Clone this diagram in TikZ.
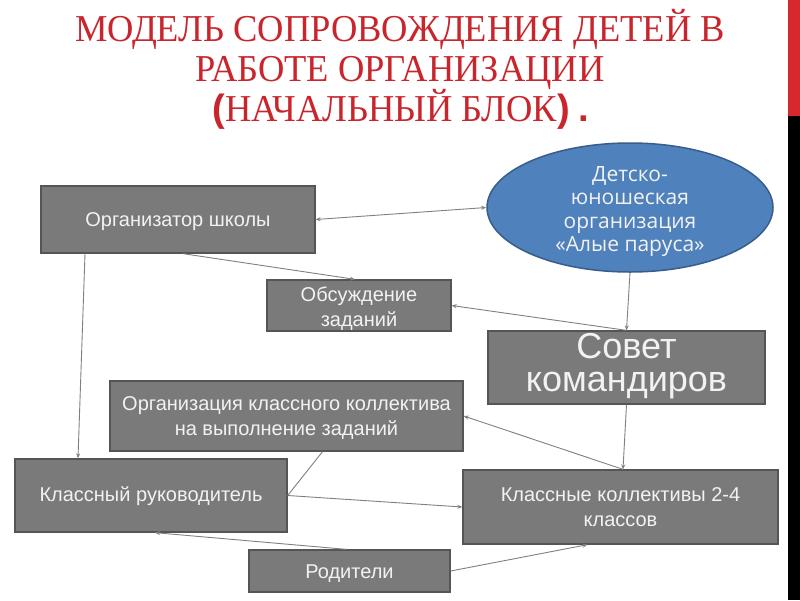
\documentclass[tikz,border=0pt]{standalone}
\usepackage{fontspec}
\setmainfont{Liberation Sans}
\newfontfamily\titlefont[FakeStretch=0.96]{Liberation Serif}
\newfontfamily\titlebold{Liberation Sans}
\newfontfamily\ellfont{Open Sans}
\usetikzlibrary{arrows.meta,shapes.geometric,calc}
\newcommand{\dnbox}[2]{\raisebox{-#1}[\height][\depth]{\begin{tabular}{@{}c@{}}#2\end{tabular}}}
\definecolor{boxfill}{RGB}{122,122,122}
\definecolor{boxline}{RGB}{85,85,85}
\definecolor{boxtext}{RGB}{242,242,242}
\definecolor{ellfill}{RGB}{79,129,189}
\definecolor{ellline}{RGB}{56,93,138}
\definecolor{titlered}{RGB}{200,38,44}
\definecolor{stripred}{RGB}{214,40,45}
\definecolor{conn}{RGB}{128,128,128}
\tikzset{
  gbox/.style={rectangle, fill=boxfill, draw=boxline, line width=1.3pt, inner sep=0pt,
    text=boxtext, align=center, font=\fontsize{20}{25}\selectfont},
  conline/.style={draw=conn, line width=0.9pt},
  con/.style={conline, -{Stealth[length=5pt,width=4pt]}},
  bicon/.style={conline, {Stealth[length=5pt,width=4pt]}-{Stealth[length=5pt,width=4pt]}},
}
\begin{document}
\begin{tikzpicture}[x=1pt,y=-1pt]
\useasboundingbox (0,0) rectangle (800,600);
\fill[white] (0,0) rectangle (800,600);
% right strip
\fill[stripred] (788,0) rectangle (800,116);
\fill[black] (788,116) rectangle (800,600);
% title
\node[text=titlered, anchor=base, font=\titlefont\fontsize{38}{40}\selectfont] (t1) at (400,41) {МОДЕЛЬ СОПРОВОЖДЕНИЯ ДЕТЕЙ В};
\node[text=titlered, anchor=base, font=\titlefont\fontsize{38}{40}\selectfont] (t2) at (400,81) {РАБОТЕ ОРГАНИЗАЦИИ};
\node[text=titlered, anchor=base, font=\titlefont\fontsize{38}{40}\selectfont] (t3) at (401,121) {{\titlebold\bfseries(}НАЧАЛЬНЫЙ БЛОК{\titlebold\bfseries)} {\titlebold\bfseries.}};
% nodes
\node[gbox, minimum width=274pt, minimum height=67pt] (org) at (178,219.5) {\dnbox{2pt}{Организатор школы}};
\node[ellipse, fill=ellfill, draw=ellline, line width=1.5pt, inner sep=-12pt,
  minimum width=286pt, minimum height=129pt, text=boxtext, align=center,
  font=\ellfont\fontsize{21}{23.5}\selectfont] (el) at (630,207.5)
  {\dnbox{4.5pt}{Детско-\\юношеская\\организация\\«Алые паруса»}};
\node[gbox, minimum width=184pt, minimum height=51pt] (disc) at (359,305.5) {\dnbox{3pt}{Обсуждение\\заданий}};
\node[gbox, minimum width=277pt, minimum height=73pt, font=\fontsize{36}{33}\selectfont] (sov) at (626.5,367.5) {\dnbox{0pt}{Совет\\командиров}};
\node[gbox, minimum width=353pt, minimum height=70pt] (orgk) at (286.5,416) {\dnbox{2pt}{Организация классного коллектива\\на выполнение заданий}};
\node[gbox, minimum width=272pt, minimum height=73pt] (kr) at (151,495.5) {\dnbox{1pt}{Классный руководитель}};
\node[gbox, minimum width=315pt, minimum height=74pt] (kk) at (620.5,507) {\dnbox{1.5pt}{Классные коллективы 2-4\\классов}};
\node[gbox, minimum width=201pt, minimum height=42pt] (rod) at (349.5,571) {\dnbox{2pt}{Родители}};
% connectors
\draw[bicon] (org.east) -- (el.west);
\draw[con] ([xshift=5pt]org.south) -- ([xshift=-4pt]disc.north);
\draw[con] (sov.north) -- (disc.east);
\draw[con] (el.south) -- (sov.north);
\draw[con] ([xshift=-93pt]org.south) -- ([xshift=-73pt]kr.north);
\draw[con] (sov.south) -- ([xshift=2.5pt]kk.north);
\draw[con] ([xshift=2.5pt]kk.north) -- (orgk.east);
\draw[conline] (kr.east) -- ([xshift=36pt]orgk.south);
\draw[con] (kr.east) -- (kk.west);
\draw[con] ([xshift=-3pt]rod.north) -- ([xshift=4pt]kr.south);
\draw[con] (rod.east) -- ([xshift=-33pt]kk.south);
\end{tikzpicture}
\end{document}
